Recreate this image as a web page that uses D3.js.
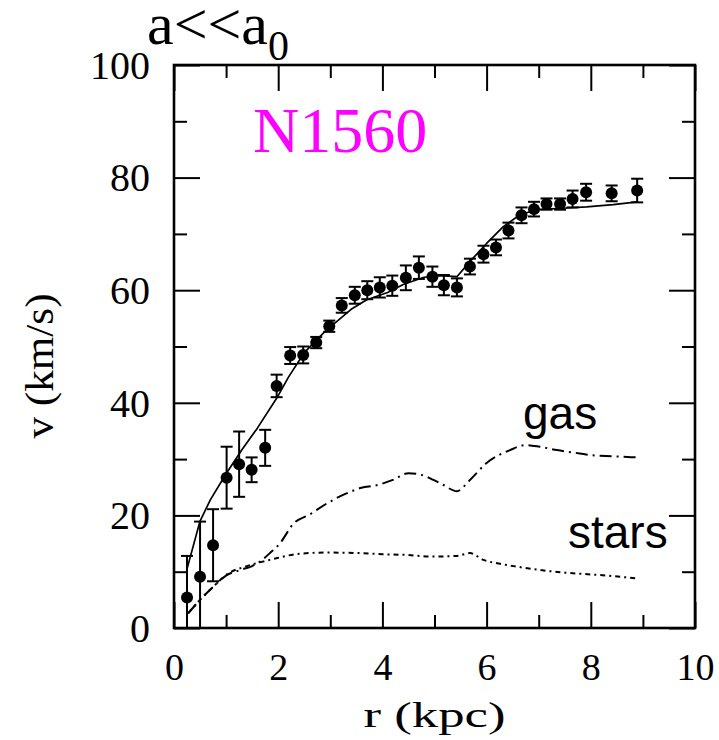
<!DOCTYPE html>
<html>
<head>
<meta charset="utf-8">
<script src="https://cdn.jsdelivr.net/npm/d3@7"></script>
<style>
  html, body { margin: 0; padding: 0; background: #fff; }
  svg { display: block; }
</style>
</head>
<body>
<svg id="chart" width="719" height="740"></svg>
<script>
// ---- data ----
const obsR = [0.25,0.50,0.75,1.01,1.25,1.49,1.75,1.97,2.23,2.48,2.73,2.98,3.22,3.47,3.71,3.95,4.19,4.45,4.70,4.96,5.18,5.43,5.68,5.94,6.18,6.42,6.67,6.91,7.15,7.41,7.65,7.91,8.40,8.89];
const obsV = [5.4,9.1,14.7,26.7,29.1,28.1,32.0,43.0,48.4,48.5,50.7,53.6,57.3,59.1,60.0,60.5,60.8,62.2,64.0,62.4,60.9,60.5,64.2,66.4,67.6,70.6,73.3,74.4,75.3,75.3,76.2,77.4,77.2,77.7];
const obsErr = [7.4,9.8,6.4,5.5,5.8,2.2,3.2,2.0,1.5,1.5,1.0,1.0,1.3,1.5,1.6,1.8,1.8,2.2,2.0,1.8,1.8,1.6,1.4,1.5,1.4,1.4,1.4,1.3,1.0,1.0,1.5,1.5,1.4,2.1];

const modelR = [0.25,0.5,0.7,1.0,1.3,1.6,1.97,2.2,2.5,2.9,3.4,3.7,4.1,4.4,4.8,5.1,5.43,5.7,6.0,6.32,6.64,6.96,7.54,7.92,8.43,8.89];
const modelV = [10.5,19.0,22.8,27.4,31.6,35.5,40.8,44.6,48.9,52.7,56.6,58.3,59.6,61.0,62.3,62.6,62.4,65.3,68.3,71.3,73.4,74.3,74.6,74.8,75.2,75.7];

const gasR = [0.27,0.5,0.75,1.0,1.27,1.5,1.65,1.84,2.03,2.29,2.61,2.93,3.31,3.6,3.86,4.2,4.5,4.75,4.98,5.17,5.43,5.68,6.0,6.45,6.75,7.02,7.35,7.79,8.0,8.43,8.89];
const gasV = [2.6,5.0,7.3,9.3,10.3,11.0,11.8,13.3,15.0,18.5,20.2,22.1,23.9,24.9,25.3,26.3,27.5,27.2,26.3,25.4,24.3,26.3,29.3,31.6,32.5,32.2,31.6,31.0,30.7,30.5,30.3];

const starsR = [0.27,0.5,0.75,1.01,1.4,1.84,2.42,2.93,3.57,4.0,4.4,4.98,5.43,5.68,5.94,6.26,6.58,7.02,7.54,8.18,8.89];
const starsV = [2.6,5.0,7.3,9.5,11.0,12.1,13.2,13.4,13.3,13.1,13.0,12.7,12.8,13.3,12.1,11.4,10.9,10.3,9.8,9.4,8.8];

const xMajorTicks = [0,2,4,6,8,10];
const xMinorTicks = [1,3,5,7,9];
const yMajorTicks = [0,20,40,60,80,100];
const yMinorTicks = [10,30,50,70,90];

// ---- layout ----
const svg = d3.select("#chart");
const L = 174, R = 695, T = 65, B = 628;
const x = d3.scaleLinear().domain([0,10]).range([L,R]);
const y = d3.scaleLinear().domain([0,100]).range([B,T]);
const serif = "'Liberation Serif','Times New Roman',serif";
const sans = "'Liberation Sans',Arial,sans-serif";

function styleAxis(g){
  g.select(".domain").remove();
  g.selectAll(".tick line").attr("stroke","#000").attr("stroke-width",2);
}
// bottom
svg.append("g").attr("transform",`translate(0,${B})`)
  .call(d3.axisBottom(x).tickValues(xMajorTicks).tickSize(-26).tickPadding(0).tickFormat(d3.format("d")))
  .call(styleAxis)
  .call(g=>g.selectAll("text").attr("y",52).attr("dy",null).attr("font-family",serif).attr("font-size",38).attr("fill","#000"));
svg.append("g").attr("transform",`translate(0,${B})`)
  .call(d3.axisBottom(x).tickValues(xMinorTicks).tickSize(-13).tickFormat(""))
  .call(styleAxis);
// top
svg.append("g").attr("transform",`translate(0,${T})`)
  .call(d3.axisTop(x).tickValues(xMajorTicks).tickSize(-26).tickFormat(""))
  .call(styleAxis);
svg.append("g").attr("transform",`translate(0,${T})`)
  .call(d3.axisTop(x).tickValues(xMinorTicks).tickSize(-13).tickFormat(""))
  .call(styleAxis);
// left
svg.append("g").attr("transform",`translate(${L},0)`)
  .call(d3.axisLeft(y).tickValues(yMajorTicks).tickSize(-26).tickPadding(24).tickFormat(d3.format("d")))
  .call(styleAxis)
  .call(g=>g.selectAll("text").attr("x",-24).attr("dy","0.33em").attr("font-family",serif).attr("font-size",40).attr("fill","#000"));
svg.append("g").attr("transform",`translate(${L},0)`)
  .call(d3.axisLeft(y).tickValues(yMinorTicks).tickSize(-13).tickFormat(""))
  .call(styleAxis);
// right
svg.append("g").attr("transform",`translate(${R},0)`)
  .call(d3.axisRight(y).tickValues(yMajorTicks).tickSize(-26).tickFormat(""))
  .call(styleAxis);
svg.append("g").attr("transform",`translate(${R},0)`)
  .call(d3.axisRight(y).tickValues(yMinorTicks).tickSize(-13).tickFormat(""))
  .call(styleAxis);

// frame
svg.append("rect").attr("x",L).attr("y",T).attr("width",R-L).attr("height",B-T)
  .attr("fill","none").attr("stroke","#000").attr("stroke-width",2.6);

// axis titles
svg.append("text").attr("x",(L+R)/2).attr("y",727).attr("text-anchor","middle")
  .attr("font-family",serif).attr("font-size",36)
  .attr("textLength",142).attr("lengthAdjust","spacingAndGlyphs").text("r (kpc)");
svg.append("text").attr("transform","translate(53,366) rotate(-90)").attr("text-anchor","middle")
  .attr("font-family",serif).attr("font-size",40)
  .attr("textLength",145).attr("lengthAdjust","spacingAndGlyphs").text("v (km/s)");

// curves
const smooth = d3.line().x(d=>x(d[0])).y(d=>y(d[1])).curve(d3.curveMonotoneX);
const straight = d3.line().x(d=>x(d[0])).y(d=>y(d[1]));
svg.append("path").datum(d3.zip(modelR,modelV)).attr("d",straight)
  .attr("fill","none").attr("stroke","#000").attr("stroke-width",1.7).attr("stroke-linejoin","round");
svg.append("path").datum(d3.zip(gasR,gasV)).attr("d",smooth)
  .attr("fill","none").attr("stroke","#000").attr("stroke-width",2)
  .attr("stroke-dasharray","12,5,2,5");
svg.append("path").datum(d3.zip(starsR,starsV)).attr("d",smooth)
  .attr("fill","none").attr("stroke","#000").attr("stroke-width",2)
  .attr("stroke-dasharray","5,4,2,4");

// error bars + points
const obs = obsR.map((r,i)=>({r, v:obsV[i], e:obsErr[i]}));
const eb = svg.append("g").attr("stroke","#000").attr("stroke-width",2);
obs.forEach(d=>{
  const lo = Math.max(0, d.v - d.e), hi = Math.min(100, d.v + d.e);
  eb.append("line").attr("x1",x(d.r)).attr("x2",x(d.r)).attr("y1",y(lo)).attr("y2",y(hi));
  eb.append("line").attr("x1",x(d.r)-6).attr("x2",x(d.r)+6).attr("y1",y(hi)).attr("y2",y(hi));
  if (d.v - d.e > 0)
    eb.append("line").attr("x1",x(d.r)-6).attr("x2",x(d.r)+6).attr("y1",y(lo)).attr("y2",y(lo));
});
svg.append("g").selectAll("circle").data(obs).join("circle")
  .attr("cx",d=>x(d.r)).attr("cy",d=>y(d.v)).attr("r",6).attr("fill","#000");

// annotations
const title = svg.append("text").attr("x",147).attr("y",44).attr("font-family",serif).attr("font-size",60).attr("fill","#000");
title.append("tspan").text("a<<a");
title.append("tspan").attr("font-size",42).attr("dy",16).text("0");

svg.append("text").attr("x",253).attr("y",152).attr("font-family",serif).attr("font-size",64)
  .attr("fill","#FF00FF").text("N1560");
svg.append("text").attr("x",523).attr("y",429).attr("font-family",sans).attr("font-size",46).attr("fill","#000").text("gas");
svg.append("text").attr("x",568).attr("y",548).attr("font-family",sans).attr("font-size",46).attr("fill","#000").text("stars");
</script>
</body>
</html>
